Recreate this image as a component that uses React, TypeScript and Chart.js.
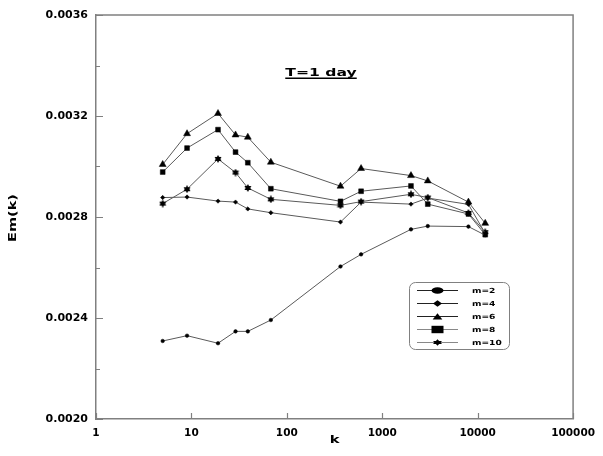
import { useEffect, useRef } from "react";
import { Chart, registerables } from "chart.js";

Chart.register(...registerables);

// Sample sizes k (log axis) and the Em(k) series for each embedding dimension m
const kValues = [5, 9, 19, 29, 39, 68, 365, 600, 2000, 3000, 8000, 12000];
const emM2 = [0.002309, 0.00233, 0.0023, 0.002347, 0.002347, 0.002392, 0.002604, 0.002652, 0.002751, 0.002764, 0.002762, 0.002728];
const emM4 = [0.002877, 0.002879, 0.002863, 0.002859, 0.002832, 0.002817, 0.00278, 0.002859, 0.002851, 0.002875, 0.00285, 0.002735];
const emM6 = [0.003008, 0.00313, 0.00321, 0.003125, 0.003116, 0.003017, 0.002922, 0.002992, 0.002964, 0.002943, 0.002859, 0.002775];
const emM8 = [0.002978, 0.003073, 0.003146, 0.003057, 0.003015, 0.002912, 0.002862, 0.002902, 0.002923, 0.002851, 0.002812, 0.00273];
const emM10 = [0.002853, 0.00291, 0.00303, 0.002976, 0.002915, 0.00287, 0.002846, 0.002861, 0.00289, 0.002877, 0.002816, 0.00274];

const seriesNames = ["m=2", "m=4", "m=6", "m=8", "m=10"];
const xTickValues = [1, 10, 100, 1000, 10000, 100000];
const yMajorTicks = [0.002, 0.0024, 0.0028, 0.0032, 0.0036];
const yMinorTicks = [0.0022, 0.0026, 0.003, 0.0034];
const titleText = "T=1 day";
const xTitle = "k";
const yTitle = "Em(k)";

const FONT = "'DejaVu Sans', sans-serif";
const AXIS_GRAY = "#808080";
const LINE_GRAY = "#5a5a5a";

function makeStar(size: number): HTMLCanvasElement {
  const c = document.createElement("canvas");
  c.width = size;
  c.height = size;
  const g = c.getContext("2d")!;
  const cx = size / 2;
  const cy = size / 2;
  const r = size / 2;
  g.fillStyle = "#000";
  for (const off of [-Math.PI / 2, Math.PI / 2]) {
    g.beginPath();
    for (let i = 0; i < 3; i++) {
      const a = off + (i * 2 * Math.PI) / 3;
      const px = cx + r * Math.cos(a);
      const py = cy + r * Math.sin(a);
      if (i === 0) g.moveTo(px, py);
      else g.lineTo(px, py);
    }
    g.closePath();
    g.fill();
  }
  return c;
}

function drawStretched(
  ctx: CanvasRenderingContext2D,
  text: string,
  x: number,
  y: number,
  sx: number,
  font: string,
  align: CanvasTextAlign
) {
  ctx.save();
  ctx.font = font;
  ctx.textAlign = align;
  ctx.textBaseline = "alphabetic";
  ctx.translate(x, y);
  ctx.scale(sx, 1);
  ctx.fillText(text, 0, 0);
  ctx.restore();
}

function legendMarker(ctx: CanvasRenderingContext2D, idx: number, x: number, y: number) {
  ctx.fillStyle = "#000";
  if (idx === 0) {
    ctx.beginPath();
    ctx.ellipse(x, y, 6, 3.2, 0, 0, Math.PI * 2);
    ctx.fill();
  } else if (idx === 1) {
    ctx.beginPath();
    ctx.moveTo(x - 4.5, y);
    ctx.lineTo(x, y - 3.3);
    ctx.lineTo(x + 4.5, y);
    ctx.lineTo(x, y + 3.3);
    ctx.closePath();
    ctx.fill();
  } else if (idx === 2) {
    ctx.beginPath();
    ctx.moveTo(x - 4.8, y + 3);
    ctx.lineTo(x, y - 3.2);
    ctx.lineTo(x + 4.8, y + 3);
    ctx.closePath();
    ctx.fill();
  } else if (idx === 3) {
    ctx.fillRect(x - 6, y - 3.7, 12, 7.4);
  } else {
    ctx.beginPath();
    ctx.moveTo(x - 4.5, y - 1.6);
    ctx.lineTo(x + 4.5, y - 1.6);
    ctx.lineTo(x, y + 3.2);
    ctx.closePath();
    ctx.fill();
    ctx.beginPath();
    ctx.moveTo(x - 4.5, y + 1.6);
    ctx.lineTo(x + 4.5, y + 1.6);
    ctx.lineTo(x, y - 3.2);
    ctx.closePath();
    ctx.fill();
  }
}

const decorPlugin = {
  id: "decor",
  afterDraw(chart: any) {
    const { ctx, chartArea, scales } = chart;
    const xs = scales.x;
    const ys = scales.y;
    const { left, right, top, bottom } = chartArea;
    ctx.save();

    // top and right sides of the frame
    ctx.strokeStyle = AXIS_GRAY;
    ctx.lineWidth = 1.5;
    ctx.beginPath();
    ctx.moveTo(left, top);
    ctx.lineTo(right, top);
    ctx.lineTo(right, bottom);
    ctx.stroke();

    // inward tick marks
    ctx.lineWidth = 1.2;
    ctx.beginPath();
    for (const v of xTickValues) {
      const px = Math.round(xs.getPixelForValue(v)) + 0.5;
      ctx.moveTo(px, bottom);
      ctx.lineTo(px, bottom - 6);
    }
    for (const v of yMajorTicks) {
      const py = Math.round(ys.getPixelForValue(v)) + 0.5;
      ctx.moveTo(left, py);
      ctx.lineTo(left + 7, py);
    }
    for (const v of yMinorTicks) {
      const py = Math.round(ys.getPixelForValue(v)) + 0.5;
      ctx.moveTo(left, py);
      ctx.lineTo(left + 4, py);
    }
    ctx.stroke();

    // chart title with underline
    ctx.fillStyle = "#000";
    const tFont = `bold 11px ${FONT}`;
    drawStretched(ctx, titleText, 321, 76, 1.42, tFont, "center");
    ctx.font = tFont;
    const tw = ctx.measureText(titleText).width * 1.42;
    ctx.fillRect(321 - tw / 2, 77.5, tw, 1.5);

    // axis titles
    drawStretched(ctx, xTitle, (left + right) / 2, 443, 1.4, `bold 10.5px ${FONT}`, "center");
    ctx.save();
    ctx.translate(16, 218);
    ctx.rotate(-Math.PI / 2);
    drawStretched(ctx, yTitle, 0, 0, 1.45, `bold 10px ${FONT}`, "center");
    ctx.restore();

    // legend box
    const bx = 409.5;
    const by = 282.5;
    const bw = 100;
    const bh = 67;
    ctx.fillStyle = "#fff";
    ctx.strokeStyle = AXIS_GRAY;
    ctx.lineWidth = 1;
    ctx.beginPath();
    ctx.roundRect(bx, by, bw, bh, 6);
    ctx.fill();
    ctx.stroke();
    const rows = [290, 303, 316, 329, 342];
    seriesNames.forEach((name, i) => {
      const y = rows[i];
      ctx.strokeStyle = i < 3 ? "#222" : "#888";
      ctx.lineWidth = 1;
      ctx.beginPath();
      ctx.moveTo(417, y + 0.5);
      ctx.lineTo(458, y + 0.5);
      ctx.stroke();
      legendMarker(ctx, i, 437.5, y + 0.5);
      ctx.fillStyle = "#000";
      drawStretched(ctx, name, 472, y + 3, 1.3, `bold 7px ${FONT}`, "left");
    });

    ctx.restore();
  },
};

export default function App() {
  const canvasRef = useRef<HTMLCanvasElement | null>(null);

  useEffect(() => {
    const canvas = canvasRef.current;
    if (!canvas) return;
    const star = makeStar(8);
    const seriesValues = [emM2, emM4, emM6, emM8, emM10];
    const styles: any[] = ["circle", "rectRot", "triangle", "rect", star];
    const radii = [1.8, 2.2, 4, 3.4, 4];

    const datasets = seriesValues.map((vals, i) => ({
      label: seriesNames[i],
      data: kValues.map((k, j) => ({ x: k, y: vals[j] })),
      borderColor: LINE_GRAY,
      borderWidth: 1,
      backgroundColor: "#000",
      pointStyle: styles[i],
      pointRadius: radii[i],
      pointBackgroundColor: "#000",
      pointBorderColor: "#000",
      pointBorderWidth: 0.5,
      tension: 0,
      fill: false,
    }));

    const chart = new Chart(canvas, {
      type: "line",
      data: { datasets },
      options: {
        animation: false,
        responsive: false,
        devicePixelRatio: 1,
        layout: { padding: { top: 15, right: 26, left: 0, bottom: 0 } },
        plugins: {
          legend: { display: false },
          title: { display: false },
          tooltip: { enabled: false },
        },
        scales: {
          x: {
            type: "logarithmic",
            min: 1,
            max: 100000,
            afterBuildTicks: (scale: any) => {
              scale.ticks = xTickValues.map((v) => ({ value: v }));
            },
            afterFit: (scale: any) => {
              scale.height = 37;
            },
            grid: { display: false, drawTicks: false },
            border: { display: true, color: AXIS_GRAY, width: 1.5 },
            ticks: {
              autoSkip: false,
              maxRotation: 0,
              padding: 8,
              color: "#000",
              font: { family: FONT, size: 10.5, weight: "bold" },
              callback: (value: any) => String(value),
            },
          },
          y: {
            type: "linear",
            min: 0.002,
            max: 0.0036,
            afterBuildTicks: (scale: any) => {
              scale.ticks = yMajorTicks.map((v) => ({ value: v }));
            },
            afterFit: (scale: any) => {
              scale.width = 96;
            },
            grid: { display: false, drawTicks: false },
            border: { display: true, color: AXIS_GRAY, width: 1.5 },
            ticks: {
              padding: 8,
              color: "#000",
              font: { family: FONT, size: 11, weight: "bold" },
              callback: (value: any) => Number(value).toFixed(4),
            },
          },
        },
      },
      plugins: [decorPlugin],
    } as any);

    return () => chart.destroy();
  }, []);

  return (
    <div style={{ position: "fixed", left: 0, top: 0, width: 603, height: 456, background: "#fff" }}>
      <canvas ref={canvasRef} width={603} height={456} />
    </div>
  );
}
